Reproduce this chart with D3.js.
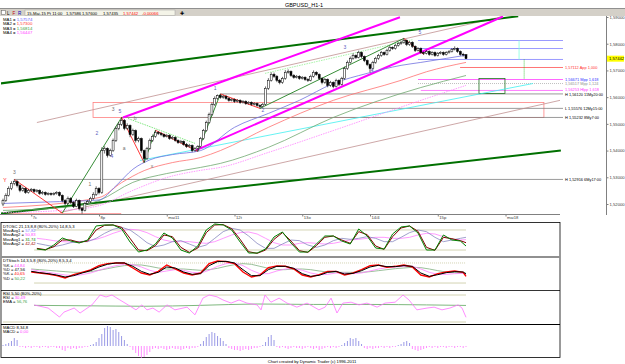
<!DOCTYPE html>
<html><head><meta charset="utf-8">
<script src="https://cdn.jsdelivr.net/npm/d3@7/dist/d3.min.js"></script>
<style>html,body{margin:0;padding:0;background:#fff;}svg{display:block;}text{font-family:"Liberation Sans",Arial,sans-serif;}</style>
</head><body>
<svg id="chart" width="625" height="364"></svg>
<script>
// ---------------- DATA ----------------
const firstOpen = 1.5200;
const closes = [1.5213,1.5232,1.5258,1.5277,1.5284,1.5269,1.5251,1.5258,1.5243,1.5251,
1.5254,1.5247,1.5251,1.5239,1.5243,1.5236,1.5239,1.5236,1.5239,1.5243,
1.5232,1.5213,1.5202,1.5221,1.5206,1.5191,1.5213,1.5183,1.5176,1.5202,
1.5209,1.5221,1.5236,1.5258,1.5243,1.5400,1.5408,1.5382,1.5400,1.5438,
1.5483,1.5498,1.5513,1.5483,1.5494,1.5460,1.5475,1.5438,1.5445,1.5400,
1.5370,1.5408,1.5438,1.5453,1.5468,1.5464,1.5460,1.5453,1.5457,1.5445,
1.5449,1.5438,1.5430,1.5434,1.5423,1.5415,1.5419,1.5400,1.5408,1.5415,
1.5445,1.5475,1.5505,1.5535,1.5573,1.5595,1.5606,1.5599,1.5603,1.5595,
1.5588,1.5591,1.5584,1.5588,1.5580,1.5584,1.5576,1.5580,1.5573,1.5576,
1.5569,1.5565,1.5573,1.5633,1.5663,1.5685,1.5678,1.5663,1.5655,1.5670,
1.5693,1.5696,1.5681,1.5674,1.5678,1.5670,1.5674,1.5666,1.5663,1.5678,
1.5693,1.5685,1.5670,1.5655,1.5666,1.5644,1.5655,1.5640,1.5663,1.5648,
1.5670,1.5707,1.5730,1.5745,1.5756,1.5749,1.5767,1.5752,1.5737,1.5722,
1.5707,1.5730,1.5745,1.5756,1.5767,1.5760,1.5775,1.5786,1.5782,1.5794,
1.5801,1.5805,1.5812,1.5797,1.5805,1.5790,1.5775,1.5782,1.5767,1.5764,
1.5771,1.5760,1.5767,1.5756,1.5764,1.5767,1.5760,1.5767,1.5771,1.5779,
1.5782,1.5771,1.5760,1.5759,1.5744];
const highs = [1.5220,1.5240,1.5266,1.5285,1.5292,1.5289,1.5274,1.5265,1.5262,1.5257,
1.5260,1.5258,1.5256,1.5255,1.5249,1.5247,1.5244,1.5243,1.5244,1.5248,
1.5247,1.5236,1.5218,1.5228,1.5226,1.5210,1.5220,1.5217,1.5189,1.5208,
1.5215,1.5227,1.5244,1.5266,1.5263,1.5412,1.5416,1.5412,1.5407,1.5445,
1.5490,1.5506,1.5524,1.5518,1.5502,1.5498,1.5482,1.5479,1.5452,1.5449,
1.5404,1.5414,1.5445,1.5460,1.5476,1.5473,1.5469,1.5464,1.5462,1.5461,
1.5455,1.5453,1.5442,1.5440,1.5438,1.5428,1.5425,1.5423,1.5413,1.5420,
1.5451,1.5481,1.5512,1.5542,1.5580,1.5603,1.5610,1.5612,1.5609,1.5607,
1.5600,1.5596,1.5595,1.5593,1.5592,1.5589,1.5588,1.5585,1.5584,1.5581,
1.5580,1.5573,1.5578,1.5640,1.5671,1.5693,1.5692,1.5683,1.5668,1.5676,
1.5701,1.5704,1.5700,1.5686,1.5683,1.5682,1.5679,1.5678,1.5671,1.5684,
1.5700,1.5697,1.5689,1.5674,1.5672,1.5670,1.5661,1.5659,1.5669,1.5667,
1.5676,1.5714,1.5737,1.5752,1.5764,1.5760,1.5774,1.5771,1.5756,1.5741,
1.5726,1.5736,1.5751,1.5762,1.5773,1.5771,1.5781,1.5792,1.5790,1.5800,
1.5807,1.5811,1.5820,1.5816,1.5810,1.5809,1.5794,1.5787,1.5786,1.5771,
1.5776,1.5775,1.5772,1.5771,1.5769,1.5772,1.5771,1.5772,1.5776,1.5784,
1.5790,1.5786,1.5775,1.5766,1.5760];
const lows = [1.5192,1.5208,1.5228,1.5252,1.5270,1.5262,1.5244,1.5246,1.5238,1.5239,
1.5246,1.5241,1.5243,1.5234,1.5235,1.5231,1.5232,1.5231,1.5232,1.5235,
1.5228,1.5206,1.5196,1.5198,1.5200,1.5185,1.5188,1.5176,1.5164,1.5172,
1.5197,1.5204,1.5216,1.5230,1.5236,1.5238,1.5389,1.5374,1.5377,1.5395,
1.5432,1.5476,1.5492,1.5476,1.5478,1.5450,1.5455,1.5430,1.5431,1.5392,
1.5355,1.5365,1.5403,1.5432,1.5448,1.5458,1.5454,1.5448,1.5449,1.5440,
1.5441,1.5433,1.5425,1.5426,1.5418,1.5410,1.5411,1.5394,1.5396,1.5397,
1.5411,1.5440,1.5470,1.5500,1.5530,1.5567,1.5590,1.5594,1.5594,1.5590,
1.5583,1.5584,1.5579,1.5580,1.5575,1.5576,1.5571,1.5572,1.5568,1.5569,
1.5564,1.5558,1.5561,1.5569,1.5627,1.5658,1.5672,1.5656,1.5648,1.5650,
1.5665,1.5688,1.5676,1.5669,1.5670,1.5665,1.5666,1.5661,1.5657,1.5659,
1.5673,1.5680,1.5664,1.5648,1.5650,1.5637,1.5639,1.5633,1.5636,1.5642,
1.5644,1.5665,1.5702,1.5725,1.5740,1.5743,1.5745,1.5746,1.5731,1.5716,
1.5693,1.5702,1.5725,1.5740,1.5751,1.5755,1.5756,1.5770,1.5777,1.5778,
1.5789,1.5796,1.5800,1.5791,1.5792,1.5784,1.5769,1.5771,1.5762,1.5758,
1.5760,1.5755,1.5756,1.5751,1.5752,1.5760,1.5755,1.5756,1.5763,1.5767,
1.5775,1.5766,1.5755,1.5752,1.5744];

// moving averages [bar, price]
const ma1 = [[0,1.5202],[20,1.5209],[34,1.5215],[40,1.5268],[46,1.5330],[52,1.5365],[60,1.5385],[70,1.5400],[82,1.5487],[94,1.5539],[105,1.5588],[117,1.5651],[129,1.5689],[141,1.5719],[148,1.5730],[157,1.5745],[164,1.5757]];
const ma2 = [[0,1.5187],[34,1.5224],[42,1.5280],[50,1.5325],[60,1.5355],[70,1.5374],[77,1.5400],[94,1.5487],[117,1.5588],[141,1.5663],[150,1.5695],[164,1.5730]];
const ma3 = [[0,1.5176],[21,1.5187],[34,1.5213],[46,1.5281],[58,1.5314],[70,1.5337],[77,1.5352],[94,1.5412],[117,1.5524],[148,1.5636],[164,1.5681]];
const ma4 = [[0,1.5168],[21,1.5176],[34,1.5194],[46,1.5251],[58,1.5299],[70,1.5326],[77,1.5337],[94,1.5393],[117,1.5475],[148,1.5588],[164,1.5644]];

// trend lines [bar, price]
const greenUpper = [[-1.1,1.5651],[182.5,1.5903]];
const greenLower = [[-1.1,1.5164],[197.6,1.5400]];
const magentaUpper = [[42.5,1.5524],[140.6,1.5899]];
const magentaLower = [[68,1.5400],[177.1,1.5902]];
const brownUpper = [[12,1.5505],[177.1,1.5902]];
const brownLower = [[20.2,1.5168],[197.3,1.5588]];
const cyanLine = [[48.5,1.5363],[187.7,1.5651]];
const lgreenDot1 = [[44.3,1.5520],[68,1.5427]];
const lgreenDot2 = [[92.8,1.5689],[145,1.5815]];

// zigzag swings
const zigzag = [[4,1.5292],[21,1.5166],[42,1.5524],[50,1.5355],[54,1.5476],[69,1.5397],[77,1.5612],[91,1.5558],[142,1.5820],[149,1.5760]];

// horizontal levels
const levelPrices = [1.5711,1.5666,1.5651,1.5625,1.5612,1.5558,1.5524,1.5292];
const levelStart  = [161.9,147,147,148,77,91,42,4];
const levelText   = ["1,57112 App 1,000","1,56671 Mpp 1,618","1,56517 Mpp 1,124","1,56253 Hlpp 1,618","H 1,56120 11My20:00","L 1,55576 12My15:00","H 1,55232 8My7:00","H 1,52916 6My17:00"];
const levelColor  = ["#ff5050","#ff40ff","#b0b0b0","#ff60ff","#808080","#808080","#808080","#808080"];
const levelTextColor = ["#ff3030","#3030ff","#909090","#ff30ff","#000","#000","#000","#000"];
const blueLevels = [1.5812,1.5782,1.5741];

// wave labels
const waveLabels = [
 ["Y",0.7,1.5281,"#ff0000"],["3",4,1.5314,"#707070"],["1",30.8,1.5269,"#707070"],["2",33.3,1.5460,"#6060c0"],
 ["4",38.6,1.5374,"#6060c0"],["3",39,1.5550,"#707070"],["5",41.4,1.5539,"#6060c0"],["b",46.8,1.5513,"#707070"],
 ["a",42.9,1.5404,"#707070"],["c",49.9,1.5355,"#707070"],["x",52.8,1.5333,"#707070"],["1",75.1,1.5625,"#6060c0"],
 ["2",92.1,1.5543,"#6060c0"],["3",121.1,1.5782,"#6060c0"],["4",130.7,1.5693,"#6060c0"],["5",147.7,1.5835,"#6060c0"]
];

const priceTicks = [1.52,1.53,1.54,1.55,1.56,1.57,1.58,1.59];
const dayTicks = [10,34,58,82,106,130,154,178];
const dayLabels = ["7c","8p","mai11","12t","13o","14/4","15p","mai18"];

// oscillators
const oscIdx = d3.range(12,163,3).concat([164]);
const dtoscFast = [23,20,35,56,47,41,50,92,95,95,83,44,14,20,38,71,56,20,11,32,80,98,95,80,44,11,11,23,59,74,41,14,14,38,62,62,47,38,83,62,26,23,68,89,92,71,20,20,65,50,47,32];
const dtoscSlow = [25,21,30,50,50,43,47,80,94,95,88,55,20,18,33,65,60,28,13,26,72,95,96,84,52,15,10,20,52,72,47,18,13,33,58,62,50,40,75,66,32,22,60,86,92,76,28,19,58,54,48,42];
const dtoscAvg1 = [40,35,30,35,42,45,45,55,70,82,88,80,62,42,30,35,45,48,38,28,35,55,75,85,80,62,40,25,25,38,50,48,35,28,35,48,55,52,55,60,55,45,45,58,72,80,75,58,45,50,55,58];
const dtoscAvg2 = [55,52,48,45,44,45,48,52,60,70,78,82,80,72,60,50,45,45,45,42,40,45,55,65,72,74,68,55,42,35,35,40,42,40,38,40,45,50,52,55,58,58,55,55,58,65,70,68,60,52,50,51];

const stIdx = d3.range(10,164,3).concat([164]);
const stochK = [53,50,47,42,35,45,52,59,72,78,80,80,65,50,44,55,74,62,50,44,50,78,86,84,78,53,38,44,66,71,70,62,44,38,45,55,55,44,50,60,72,74,67,70,74,68,44,38,48,53,56,52,40];
const stochKs = [55,51,48,44,38,42,50,57,68,76,80,80,70,55,46,52,68,65,53,46,48,72,84,85,80,60,42,42,60,70,70,64,48,40,43,52,55,47,49,57,68,73,69,69,72,70,50,40,45,51,54,53,47];
const stochD = [60,56,52,48,44,42,45,50,58,66,72,76,75,68,58,52,56,60,58,52,50,58,70,78,80,72,58,48,48,56,62,64,58,50,45,46,50,50,48,50,56,62,66,68,70,70,62,52,46,46,48,49,45];
const stochDs = [62,60,58,56,54,52,52,54,58,63,68,72,74,74,70,65,62,62,62,60,58,60,64,70,75,78,76,70,64,60,60,62,62,60,56,53,52,52,52,52,54,57,60,63,65,67,66,62,57,53,51,50,50];

const rsi = [[11,57.8],[16,51],[20,31],[21.6,42],[25.2,51],[27.3,40],[31.5,58],[34.4,80],[36.5,75.6],[38.6,80],[41.4,69],[44.3,58],[47.1,47],[49.2,58],[51,47],[53.1,51],[55.3,42],[58.1,58],[60.9,47],[65.2,53],[68,36],[70.8,73],[73,80],[75.8,76],[77.9,69],[80.8,62],[83.6,69],[86.4,62],[90,58],[91.4,47],[92.8,80],[94.9,64],[97.8,73],[100.6,62],[104.1,53],[107.7,62],[111.9,47],[114.1,53],[116.2,73],[118.3,40],[120.4,62],[123.3,64],[126.1,58],[128.9,62],[132.5,53],[135.3,62],[138.9,64],[141.7,80],[143.8,69],[146.6,47],[150.2,51],[152.7,53],[155.5,47],[158.3,51],[161.2,58],[162.6,51],[164,30.5]];
const rsiEma = [[11,57],[30,56],[50,55],[70,57],[90,60],[110,59],[130,59],[150,58],[164,56.8]];

const macdHist = [1,2,3,5,8,6,
-1,-1,-2,-1,-2,-1,-1,-2,-1,-1,-2,-1,-1,-2,-2,
-4,-5,-2,-3,-2,-3,-2,-2,-1,-1,1,
2,4,8,12,18,20,19,16,17,14,10,6,2,-1,
-4,-7,-10,-12,-11,-9,-6,-3,
-2,-3,-2,-3,-4,-3,-2,-3,-3,-4,-3,-2,-3,-2,-2,-1,
2,5,9,12,14,13,10,8,5,2,
-2,-3,-4,-4,-5,-4,-3,-4,-3,-2,-2,-1,1,
4,9,11,6,
-1,-2,-1,-2,-3,-2,-1,-2,-2,-3,-2,-1,-2,-3,-2,-4,-3,-2,-1,-2,-1,-2,-1,1,
3,5,8,7,8,5,2,
-2,-3,-2,-3,-2,-2,-1,-2,-1,-2,-1,-1,1,
2,4,5,3,-3,-4,-5,-4,-3,-2,
-1,-2,-1,-2,-1,-1,-2,-1,-1,-2,-1,-1,-2,-1];

// ---------------- DRAW ----------------
const svg = d3.select("#chart");
const FONT = "Liberation Sans, Arial, sans-serif";
const x = d3.scaleLinear().domain([0,164]).range([3,466]);
const y = d3.scaleLinear().domain([1.52,1.59]).range([204,17]);
const line = d3.line().x(d=>x(d[0])).y(d=>y(d[1]));
const smooth = d3.line().x(d=>x(d[0])).y(d=>y(d[1])).curve(d3.curveMonotoneX);

function txt(g,xx,yy,s,size,color,anchor){
  return g.append("text").attr("x",xx).attr("y",yy).text(s).attr("font-size",size)
    .attr("fill",color||"#000").attr("text-anchor",anchor||"start");
}

// header
svg.append("rect").attr("x",0).attr("y",0).attr("width",625).attr("height",9).attr("fill","#ffffff");
txt(svg,304,6.5,"GBPUSD_H1-1",5.5,"#000","middle");
svg.append("line").attr("x1",0).attr("x2",625).attr("y1",8.5).attr("y2",8.5).attr("stroke","#909090");
svg.append("rect").attr("x",0).attr("y",9).attr("width",625).attr("height",7).attr("fill","#d4d0c8");
svg.append("rect").attr("x",1.5).attr("y",10.5).attr("width",4).attr("height",4).attr("fill","#fff").attr("stroke","#606060").attr("stroke-width",0.5);
txt(svg,7,15,"L",4.5,"#000");
txt(svg,12.5,15,"F",4.5,"#c00000");
txt(svg,18,15,"R",4.5,"#0000c0");
svg.append("rect").attr("x",25).attr("y",10).attr("width",150).attr("height",5.5).attr("fill","#f4f4e8").attr("stroke","#a0a0a0").attr("stroke-width",0.5);
const info = [["15-Mai-15 Pt 11:00",27,"#000"],["1,57586",66,"#000"],["1,57600",82,"#000"],["1,57435",103,"#000"],["1,57442",123,"#ff0000"],["-0,00066",142,"#ff0000"]];
info.forEach(d=>txt(svg,d[1],14.5,d[0],4.2,d[2]));
txt(svg,180,15,"\u271A",5,"#000");

// main panel
const main = svg.append("g");
svg.append("defs").append("clipPath").attr("id","mclip").append("rect").attr("x",1).attr("y",16).attr("width",605).attr("height",198);
const mg = main.append("g").attr("clip-path","url(#mclip)");

// red rectangles
mg.append("rect").attr("x",x(31.9)).attr("y",y(1.5580)).attr("width",x(191.6)-x(31.9)).attr("height",y(1.5524)-y(1.5580)).attr("fill","none").attr("stroke","#ff8080").attr("stroke-width",0.8);
mg.append("path").attr("d",line([[-1.1,1.5164],[41.8,1.5164],[41.8,1.5150]])).attr("fill","none").attr("stroke","#ff8080").attr("stroke-width",0.8);

// level lines
const levelDy = [0,0,0.4,-0.7,0.9,0,0,0];
levelPrices.forEach((p,i)=>{
  mg.append("line").attr("x1",x(levelStart[i])).attr("x2",563).attr("y1",y(p)).attr("y2",y(p))
    .attr("stroke",levelColor[i]).attr("stroke-width",0.8).attr("stroke-dasharray",i===2?"1,1":null);
  txt(main,565,y(p)+1.4+levelDy[i],levelText[i],3.9,levelTextColor[i]);
});
blueLevels.forEach(p=>{
  mg.append("line").attr("x1",x(147)).attr("x2",563).attr("y1",y(p)).attr("y2",y(p)).attr("stroke","#8080ff").attr("stroke-width",0.8);
});
mg.append("line").attr("x1",x(182.8)).attr("x2",x(182.8)).attr("y1",y(1.5812)).attr("y2",y(1.5741)).attr("stroke","#80ffe0").attr("stroke-width",0.8);
mg.append("line").attr("x1",x(184.6)).attr("x2",x(184.6)).attr("y1",y(1.5741)).attr("y2",y(1.5666)).attr("stroke","#20c020").attr("stroke-width",0.8).attr("stroke-dasharray","1,1");
mg.append("rect").attr("x",x(168.6)).attr("y",y(1.5670)).attr("width",x(177.8)-x(168.6)).attr("height",y(1.5614)-y(1.5670)).attr("fill","none").attr("stroke","#207020").attr("stroke-width",0.8);

// trend lines
function tl(d,c,w,dash){ mg.append("path").attr("d",line(d)).attr("fill","none").attr("stroke",c).attr("stroke-width",w).attr("stroke-dasharray",dash||null); }
tl(brownUpper,"#c09090",0.8);
tl(brownLower,"#c09090",0.8);
tl(cyanLine,"#40f0f0",0.8);
tl(lgreenDot1,"#60e060",0.8,"1.5,1");
tl(lgreenDot2,"#90f090",0.8,"1.5,1");
tl(greenUpper,"#007000",2);
tl(greenLower,"#007000",2);
tl(magentaUpper,"#ff00ff",2);
tl(magentaLower,"#ff00ff",2);

// MAs
function ma(d,c,dash){ mg.append("path").attr("d",smooth(d)).attr("fill","none").attr("stroke",c).attr("stroke-width",0.8).attr("stroke-dasharray",dash||null); }
ma(ma4,"#ff80ff","1.5,1");
ma(ma3,"#70a870");
ma(ma2,"#ff7070");
ma(ma1,"#7070e0");

// zigzag
for(let i=0;i<zigzag.length-1;i++){
  const a=zigzag[i],b=zigzag[i+1];
  tl([a,b], b[1]<a[1]?"#ff2020":"#208020",0.9);
}

// candles
const bars = closes.map((c,i)=>({i,o:i?closes[i-1]:firstOpen,c,h:highs[i],l:lows[i]}));
const cg = mg.append("g");
cg.selectAll("line.w").data(bars).join("line").attr("x1",d=>x(d.i)).attr("x2",d=>x(d.i))
  .attr("y1",d=>y(d.h)).attr("y2",d=>y(d.l)).attr("stroke","#000").attr("stroke-width",0.6);
cg.selectAll("rect").data(bars).join("rect")
  .attr("x",d=>x(d.i)-1).attr("width",2)
  .attr("y",d=>y(Math.max(d.o,d.c))).attr("height",d=>Math.max(0.6,Math.abs(y(d.o)-y(d.c))))
  .attr("fill",d=>d.c>=d.o?"#fff":"#000").attr("stroke","#000").attr("stroke-width",0.5);

// wave labels
waveLabels.forEach(w=>txt(mg,x(w[1]),y(w[2]),w[0],5,w[3],"middle"));

// MA legend
const maTxt=[["MA1 = ","1,57574","#6060ff"],["MA2 = ","1,57300","#ff3030"],["MA3 = ","1,56814","#40a040"],["MA4 = ","1,56447","#ff40ff"]];
maTxt.forEach((m,i)=>{ const t=txt(svg,3,21+i*4.4,m[0],4.3,"#000"); t.append("tspan").attr("fill",m[2]).text(m[1]); });

// price axis
svg.append("line").attr("x1",606.5).attr("x2",606.5).attr("y1",16).attr("y2",215).attr("stroke","#808080");
const ya = svg.append("g").attr("transform","translate(606.5,0)").call(d3.axisRight(y).tickValues(priceTicks).tickSize(2).tickFormat(d=>d.toFixed(5).replace(".",",")));
ya.select(".domain").remove();
ya.selectAll("line").attr("stroke","#808080");
ya.selectAll("text").attr("font-size",4.2).attr("font-family",FONT).attr("fill","#404040").attr("x",3);
const lastY = y(closes[closes.length-1]);
svg.append("rect").attr("x",607).attr("y",lastY-3).attr("width",17).attr("height",6).attr("fill","#ffff00");
txt(svg,609,lastY+1.6,"1,57442",4.2,"#000");

// time axis
svg.append("line").attr("x1",0).attr("x2",560).attr("y1",214.5).attr("y2",214.5).attr("stroke","#808080");
const xa = svg.append("g").attr("transform","translate(0,214.5)").call(d3.axisBottom(x).tickValues(dayTicks).tickSize(2).tickFormat((d,i)=>dayLabels[i]));
xa.select(".domain").remove();
xa.selectAll("line").attr("stroke","#808080");
xa.selectAll("text").attr("font-size",4.2).attr("font-family",FONT).attr("fill","#404040").attr("text-anchor","start").attr("dx",1).attr("y",2);

// ---------------- SUB PANELS ----------------
const sub = svg.append("g");
sub.append("rect").attr("x",1).attr("y",222.5).attr("width",559).attr("height",135).attr("fill","none").attr("stroke","#000").attr("stroke-width",0.8);
sub.append("line").attr("x1",1).attr("x2",560).attr("y1",257).attr("y2",257).attr("stroke","#909090").attr("stroke-width",2);
sub.append("line").attr("x1",1).attr("x2",560).attr("y1",290.5).attr("y2",290.5).attr("stroke","#000").attr("stroke-width",0.8);
sub.append("line").attr("x1",1).attr("x2",560).attr("y1",324.5).attr("y2",324.5).attr("stroke","#000").attr("stroke-width",1.2);

function ref(yv,dash,x0){ sub.append("line").attr("x1",x0||x(11)).attr("x2",x(164)).attr("y1",yv).attr("y2",yv).attr("stroke","#c8c8a0").attr("stroke-width",0.8).attr("stroke-dasharray",dash||null); }
function osc(idx,vals,sc,c,w){ sub.append("path").attr("d",d3.line().x((d,i)=>x(idx[i])).y(d=>sc(d))(vals)).attr("fill","none").attr("stroke",c).attr("stroke-width",w); }

// DTOSC
const yO = d3.scaleLinear().domain([0,100]).range([256.7,223.3]);
ref(yO(80)); ref(yO(20));
osc(oscIdx,dtoscAvg2,yO,"#ff80ff",0.8);
osc(oscIdx,dtoscAvg1,yO,"#8888c0",0.8);
osc(oscIdx,dtoscSlow,yO,"#800000",1);
osc(oscIdx,dtoscFast,yO,"#008000",1);
txt(sub,3,227.5,"DTOSC 21,13,8,8 (80%-20%) 14,8,5,3",4.2,"#000");
[["MovAvg1 = ","57,82","#8080ff"],["MovAvg2 = ","50,83","#ff40ff"],["MovAvg1 = ","31,74","#008000"],["MovAvg2 = ","42,42","#a00000"]].forEach((m,i)=>{
  const t=txt(sub,3,232+i*4.4,m[0],4.2,"#000"); t.append("tspan").attr("fill",m[2]).text(m[1]); });

// DTStoch
const yS = d3.scaleLinear().domain([0,100]).range([289.7,256.3]);
ref(yS(80),"1,1"); ref(yS(20));
osc(stIdx,stochDs,yS,"#80b080",0.8);
osc(stIdx,stochD,yS,"#ff80ff",0.8);
osc(stIdx,stochK,yS,"#ff0000",1.4);
osc(stIdx,stochKs,yS,"#000000",1);
txt(sub,3,262,"DTStoch 14,3,5,8 (80%-20%) 8,5,3,4",4.2,"#000");
[["%K = ","44,84","#ff40ff"],["%D = ","47,56","#000"],["%K = ","40,65","#ff0000"],["%D = ","50,22","#40a040"]].forEach((m,i)=>{
  const t=txt(sub,3,266.5+i*4.4,m[0],4.2,"#000"); t.append("tspan").attr("fill",m[2]).text(m[1]); });

// RSI
const yR = d3.scaleLinear().domain([0,100]).range([331,286]);
ref(yR(80),null,3); ref(yR(20),null,3);
sub.append("path").attr("d",d3.line().x(d=>x(d[0])).y(d=>yR(d[1])).curve(d3.curveMonotoneX)(rsiEma)).attr("fill","none").attr("stroke","#70b070").attr("stroke-width",0.9);
sub.append("path").attr("d",d3.line().x(d=>x(d[0])).y(d=>yR(d[1]))(rsi)).attr("fill","none").attr("stroke","#ff70ff").attr("stroke-width",0.8);
txt(sub,3,294.5,"RSI 5,50 (80%-20%)",4.2,"#000");
[["RSI = ","30,49","#ff40ff"],["EMA = ","56,76","#40a040"]].forEach((m,i)=>{
  const t=txt(sub,3,299+i*4.4,m[0],4.2,"#000"); t.append("tspan").attr("fill",m[2]).text(m[1]); });

// MACD
const yM = d3.scaleLinear().domain([-11,20]).range([357,326]);
sub.selectAll("line.macd").data(macdHist).join("line").attr("class","macd")
  .attr("x1",(d,i)=>x(i)).attr("x2",(d,i)=>x(i)).attr("y1",yM(0)).attr("y2",d=>yM(d))
  .attr("stroke",d=>d>=0?"#8080e0":"#ff70ff").attr("stroke-width",0.8);
txt(sub,3,328.5,"MACD 8,34,8",4.2,"#000");
{ const t=txt(sub,3,333,"MACD = ",4.2,"#000"); t.append("tspan").attr("fill","#ff40ff").text("0,00"); }

// footer
txt(svg,312,362.5,"Chart created by Dynamic Trader  (c) 1996-2011",4.2,"#000","middle");
</script></body></html>
